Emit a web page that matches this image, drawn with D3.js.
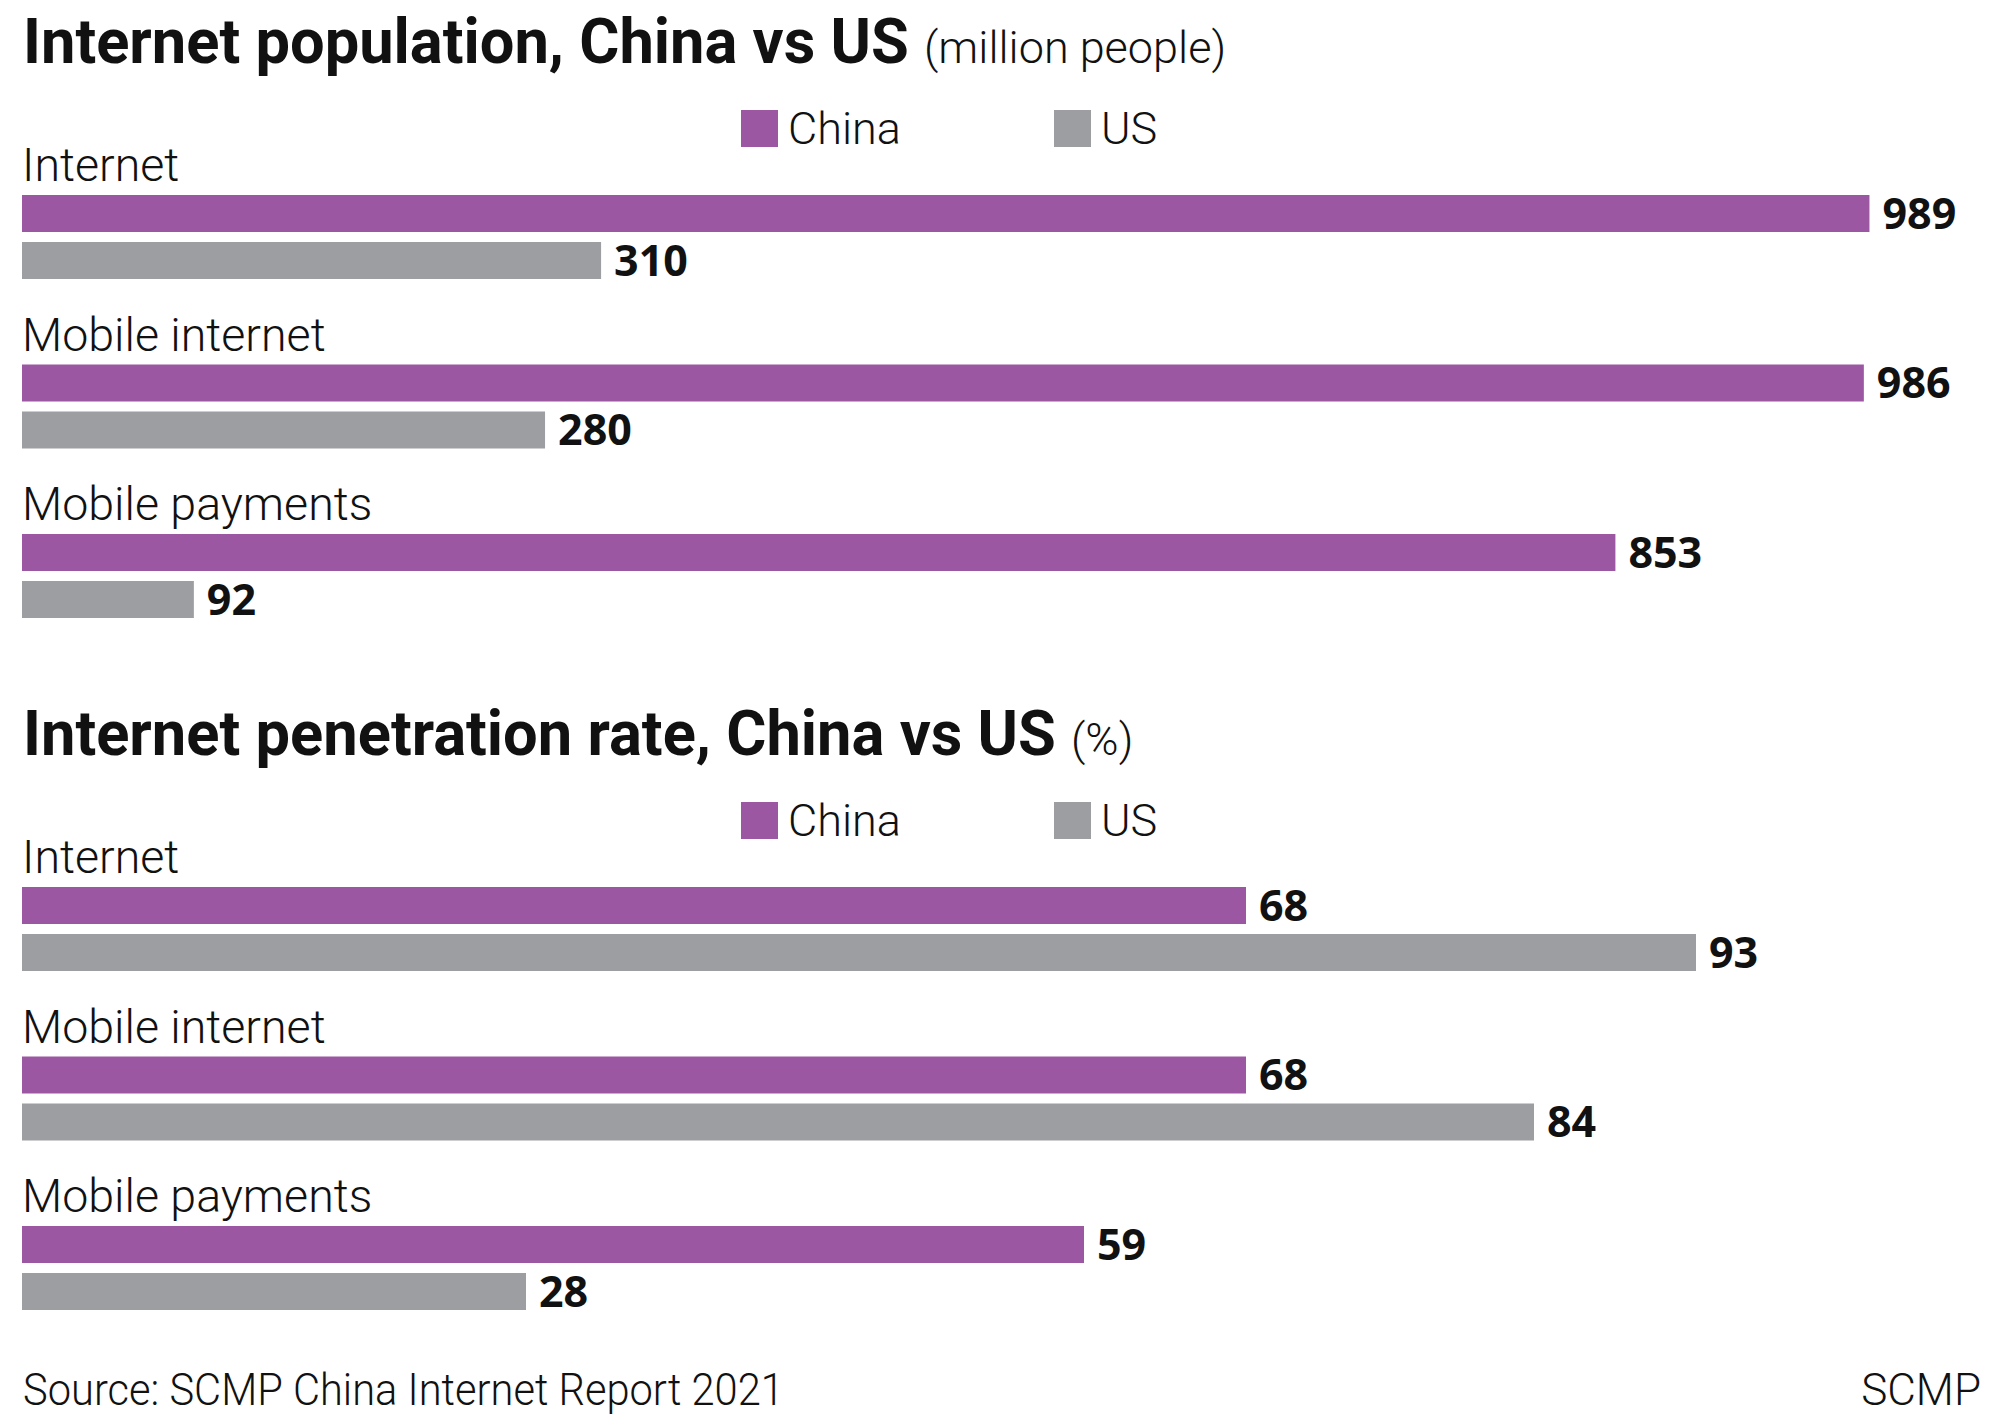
<!DOCTYPE html>
<html>
<head>
<meta charset="utf-8">
<script src="https://cdn.jsdelivr.net/npm/d3@7"></script>
<style>
  body { margin: 0; background: #fff; }
  text { font-family: Roboto, "Noto Sans", sans-serif; fill: #111; }
</style>
</head>
<body>
<div id="chart"></div>
<script>
// data
const categories = ["Internet", "Mobile internet", "Mobile payments"];
const series = ["China", "US"];
const popChina = [989, 986, 853];
const popUS = [310, 280, 92];
const rateChina = [68, 68, 59];
const rateUS = [93, 84, 28];

const svg_width = 2000;
const svg_height = 1423;
const colors = { China: "#9c57a2", US: "#9d9ea2" };

let svg = d3.select("#chart")
  .append("svg")
    .attr("width", svg_width)
    .attr("height", svg_height);

// squeeze a text horizontally to a target width (the original uses a condensed face)
function squeeze(sel, x, y, targetW) {
    const w = sel.node().getComputedTextLength();
    const k = targetW / w;
    sel.attr("x", 0).attr("y", 0)
       .attr("transform", `translate(${x},${y}) scale(${k},1)`);
    return sel;
}

// one panel = title + legend + 3 pairs of bars
function drawPanel(offsetY, title, unit, chinaVals, usVals, maxVal, pxPerUnit, titleLen) {
    let g = svg.append("g").attr("transform", `translate(0,${offsetY})`);

    const x = d3.scaleLinear().domain([0, maxVal]).range([22, 22 + maxVal * pxPerUnit]);
    const y = d3.scaleBand().domain(categories).range([195, 195 + 169.5 * 3]);
    const barH = 37;

    let t = g.append("text")
        .style("font-size", "63px")
        .style("font-weight", 700)
        .text(title);
    squeeze(t, 23, 63, titleLen);

    g.append("text")
        .attr("x", 23 + titleLen + 15)
        .attr("y", 63)
        .style("font-size", "45px")
        .style("font-weight", 300)
        .text(unit);

    // legend
    const legendX = [741, 1054];
    series.forEach((s, i) => {
        g.append("rect")
            .attr("x", legendX[i])
            .attr("y", 110)
            .attr("width", 37)
            .attr("height", 37)
            .attr("fill", colors[s]);
        g.append("text")
            .attr("x", legendX[i] + 47)
            .attr("y", 144)
            .style("font-size", "45px")
            .style("font-weight", 300)
            .text(s);
    });

    categories.forEach((c, i) => {
        const top = y(c);
        g.append("text")
            .attr("x", 22)
            .attr("y", top - 14)
            .style("font-size", "46.5px")
            .style("font-weight", 300)
            .text(c);

        const rows = [[chinaVals[i], "China", top], [usVals[i], "US", top + 47]];
        rows.forEach(([v, s, yy]) => {
            g.append("rect")
                .attr("x", x(0))
                .attr("y", yy)
                .attr("width", x(v) - x(0))
                .attr("height", barH)
                .attr("fill", colors[s]);
            g.append("text")
                .attr("x", x(v) + 13)
                .attr("y", yy + barH / 2 + 15)
                .style("font-family", "'Noto Sans', sans-serif")
                .style("font-size", "43px")
                .style("font-weight", 700)
                .text(v);
        });
    });
}

drawPanel(0, "Internet population, China vs US", "(million people)", popChina, popUS, 1000, 1.868, 886);
drawPanel(692, "Internet penetration rate, China vs US", "(%)", rateChina, rateUS, 100, 18.0, 1033);

// footer
let src = svg.append("text")
    .style("font-size", "44px")
    .style("font-weight", 300)
    .text("Source: SCMP China Internet Report 2021");
squeeze(src, 23, 1405, 761);

svg.append("text")
    .attr("x", 1981)
    .attr("y", 1405)
    .attr("text-anchor", "end")
    .style("font-size", "44px")
    .style("font-weight", 300)
    .text("SCMP");
</script>
</body>
</html>
